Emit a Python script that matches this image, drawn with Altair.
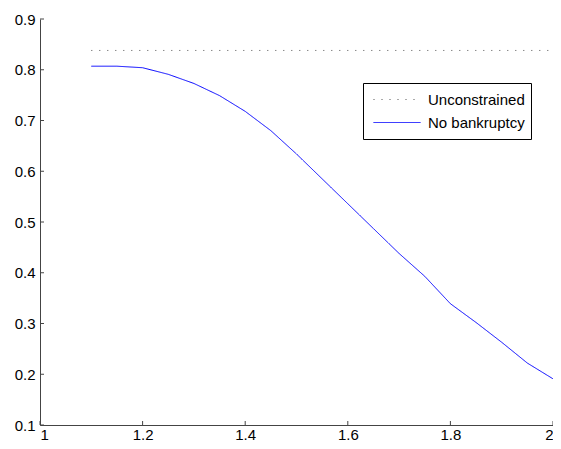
import altair as alt
import pandas as pd

# --- data ---
x_nb = [1.10, 1.15, 1.20, 1.25, 1.30, 1.35, 1.40, 1.45, 1.50, 1.55,
        1.60, 1.65, 1.70, 1.75, 1.80, 1.85, 1.90, 1.95, 2.00]
y_nb = [0.807, 0.807, 0.804, 0.791, 0.773, 0.749, 0.718, 0.680, 0.634, 0.585,
        0.536, 0.487, 0.438, 0.393, 0.339, 0.302, 0.263, 0.222, 0.191]
x_unc = [1.10, 2.00]
y_unc = [0.838, 0.838]
series = ["Unconstrained", "No bankruptcy"]
x_ticks = [1.0, 1.2, 1.4, 1.6, 1.8, 2.0]
y_ticks = [0.1, 0.2, 0.3, 0.4, 0.5, 0.6, 0.7, 0.8, 0.9]

W, H = 513, 406
FONT = "Liberation Sans"
AX = "#444444"

df = pd.concat([
    pd.DataFrame({"x": x_unc, "y": y_unc, "series": series[0]}),
    pd.DataFrame({"x": x_nb, "y": y_nb, "series": series[1]}),
], ignore_index=True)

xs = alt.Scale(domain=[1, 2], nice=False, zero=False)
ys = alt.Scale(domain=[0.1, 0.9], nice=False, zero=False)

leg = alt.Legend(
    title=None, orient="none", legendX=323, legendY=64,
    symbolType="stroke", symbolSize=2209, symbolStrokeWidth=1,
    labelFont=FONT, labelFontSize=15, labelColor="black",
    strokeColor="black", fillColor="white", padding=6, rowPadding=2,
    clipHeight=21, labelOffset=7, symbolOffset=4,
)

axis_common = dict(title=None, grid=False, ticks=False, tickSize=0,
                   domainColor=AX, domainWidth=1, labelFont=FONT,
                   labelFontSize=15, labelColor="black", format="~g")
x_axis = alt.Axis(values=x_ticks, labelPadding=2, **axis_common)
y_axis = alt.Axis(values=y_ticks, labelPadding=5, **axis_common)

lines = alt.Chart(df).mark_line(strokeWidth=1).encode(
    x=alt.X("x:Q", scale=xs, axis=x_axis),
    y=alt.Y("y:Q", scale=ys, axis=y_axis),
    color=alt.Color("series:N", scale=alt.Scale(domain=series, range=["#555555", "#0000ff"]), legend=leg),
    strokeDash=alt.StrokeDash("series:N", scale=alt.Scale(domain=series, range=[[1, 7], [1, 0]]), legend=leg),
)

yt = alt.Chart(pd.DataFrame({"y": y_ticks})).mark_rule(color=AX, strokeWidth=1).encode(
    y=alt.Y("y:Q", scale=ys, axis=y_axis), x=alt.value(0), x2=alt.value(4))
xt = alt.Chart(pd.DataFrame({"x": x_ticks})).mark_rule(color=AX, strokeWidth=1).encode(
    x=alt.X("x:Q", scale=xs, axis=x_axis), y=alt.value(H), y2=alt.value(H - 4))

chart = alt.layer(lines, yt, xt).properties(
    width=W, height=H, autosize="none",
    padding={"left": 32, "top": 11, "right": 0, "bottom": 16},
    background="white",
).configure_view(stroke=None)

chart.save("out.html", embed_options={"renderer": "svg", "actions": False})
